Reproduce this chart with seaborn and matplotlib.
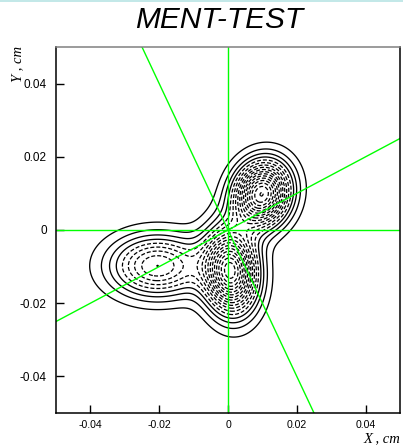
import numpy as np
import pandas as pd
import matplotlib
matplotlib.use("Agg")
import matplotlib.pyplot as plt
import seaborn as sns

# ---- data ----
blob_cx = [0.0098, 0.0008, -0.0205]
blob_cy = [0.0098, -0.0112, -0.0098]
blob_smajor = [0.0061, 0.0076, 0.0094]
blob_sminor = [0.0053, 0.0051, 0.0057]
blob_angle = [65.0, 95.0, 0.0]
blob_amp = [17.0, 17.0, 9.0]

contour_levels = [1, 2, 3, 4, 5, 6, 7, 8, 9, 10, 11, 12, 13, 14, 15, 16, 17, 18, 19, 20]
n_solid = 4

projection_angles = [0.0, 90.0, 26.565, -63.435]

tick_values = [-0.04, -0.02, 0.0, 0.02, 0.04]
tick_labels = ["-0.04", "-0.02", "0", "0.02", "0.04"]

title_text = "MENT-TEST"
xlabel_text = "X , cm"
ylabel_text = "Y , cm"

# ---- style ----
sns.set_style("white")
plt.rcParams["font.family"] = ["Liberation Sans", "DejaVu Sans"]
plt.rcParams["lines.dashed_pattern"] = [3.2, 1.6]
plt.rcParams["text.color"] = "black"

W, H = 403, 447
fig = plt.figure(figsize=(W / 100, H / 100), dpi=100)
ax = fig.add_axes([56 / W, (H - 413) / H, 344 / W, 366 / H])

# ---- density model built from the blob table ----
g = np.linspace(-0.05, 0.05, 601)
X, Y = np.meshgrid(g, g)
Z = np.zeros_like(X)
for cx, cy, sa, sb, ang, amp in zip(blob_cx, blob_cy, blob_smajor, blob_sminor, blob_angle, blob_amp):
    t = np.deg2rad(ang)
    dx, dy = X - cx, Y - cy
    u = dx * np.cos(t) + dy * np.sin(t)
    v = -dx * np.sin(t) + dy * np.cos(t)
    Z += amp * np.exp(-0.5 * ((u / sa) ** 2 + (v / sb) ** 2))

lv = np.array(contour_levels, dtype=float)
ax.contour(X, Y, Z, levels=lv[:n_solid], colors="black", linewidths=0.95, linestyles="solid")
ax.contour(X, Y, Z, levels=lv[n_solid:], colors="black", linewidths=0.9, linestyles="dashed")

# ---- projection lines ----
for a in projection_angles:
    t = np.deg2rad(a)
    s = np.array([-0.2, 0.2])
    df = pd.DataFrame({"x": s * np.cos(t), "y": s * np.sin(t)})
    sns.lineplot(data=df, x="x", y="y", color="#00ff00", linewidth=1.0,
                 sort=False, estimator=None, ax=ax)

ax.set_xlim(-0.05, 0.05)
ax.set_ylim(-0.05, 0.05)
ax.set_xticks(tick_values)
ax.set_xticklabels(tick_labels)
ax.set_yticks(tick_values)
ax.set_yticklabels(tick_labels)
ax.set_xlabel("")
ax.set_ylabel("")
ax.tick_params(direction="in", length=6, width=1, top=False, right=False,
               bottom=True, left=True, colors="black", labelcolor="black")
ax.tick_params(axis="x", pad=5, labelsize=7.6)
ax.tick_params(axis="y", pad=6.7, labelsize=8.5)
for side in ["left", "bottom", "right"]:
    ax.spines[side].set_color("black")
    ax.spines[side].set_linewidth(1.1)
ax.spines["top"].set_color("#808080")
ax.spines["top"].set_linewidth(1.1)

fig.text(219 / W, 1 - 28.5 / H, title_text, ha="center", va="baseline", color="black",
         fontsize=21.5, style="italic", family=["Liberation Sans", "DejaVu Sans"])
fig.text(400 / W, 1 - 442 / H, xlabel_text, ha="right", va="baseline", color="black",
         fontsize=10.5, style="italic", family=["Liberation Serif", "DejaVu Serif"])
fig.text(24.5 / W, 1 - 46 / H, ylabel_text, ha="right", va="top", rotation=90, color="black",
         fontsize=10.5, style="italic", family=["Liberation Serif", "DejaVu Serif"])

fig.add_artist(plt.Line2D([0, 1], [1 - 0.5 / H, 1 - 0.5 / H], color="#b8e4e4", lw=1.2,
                          transform=fig.transFigure))

fig.savefig("out.png", dpi=100)
